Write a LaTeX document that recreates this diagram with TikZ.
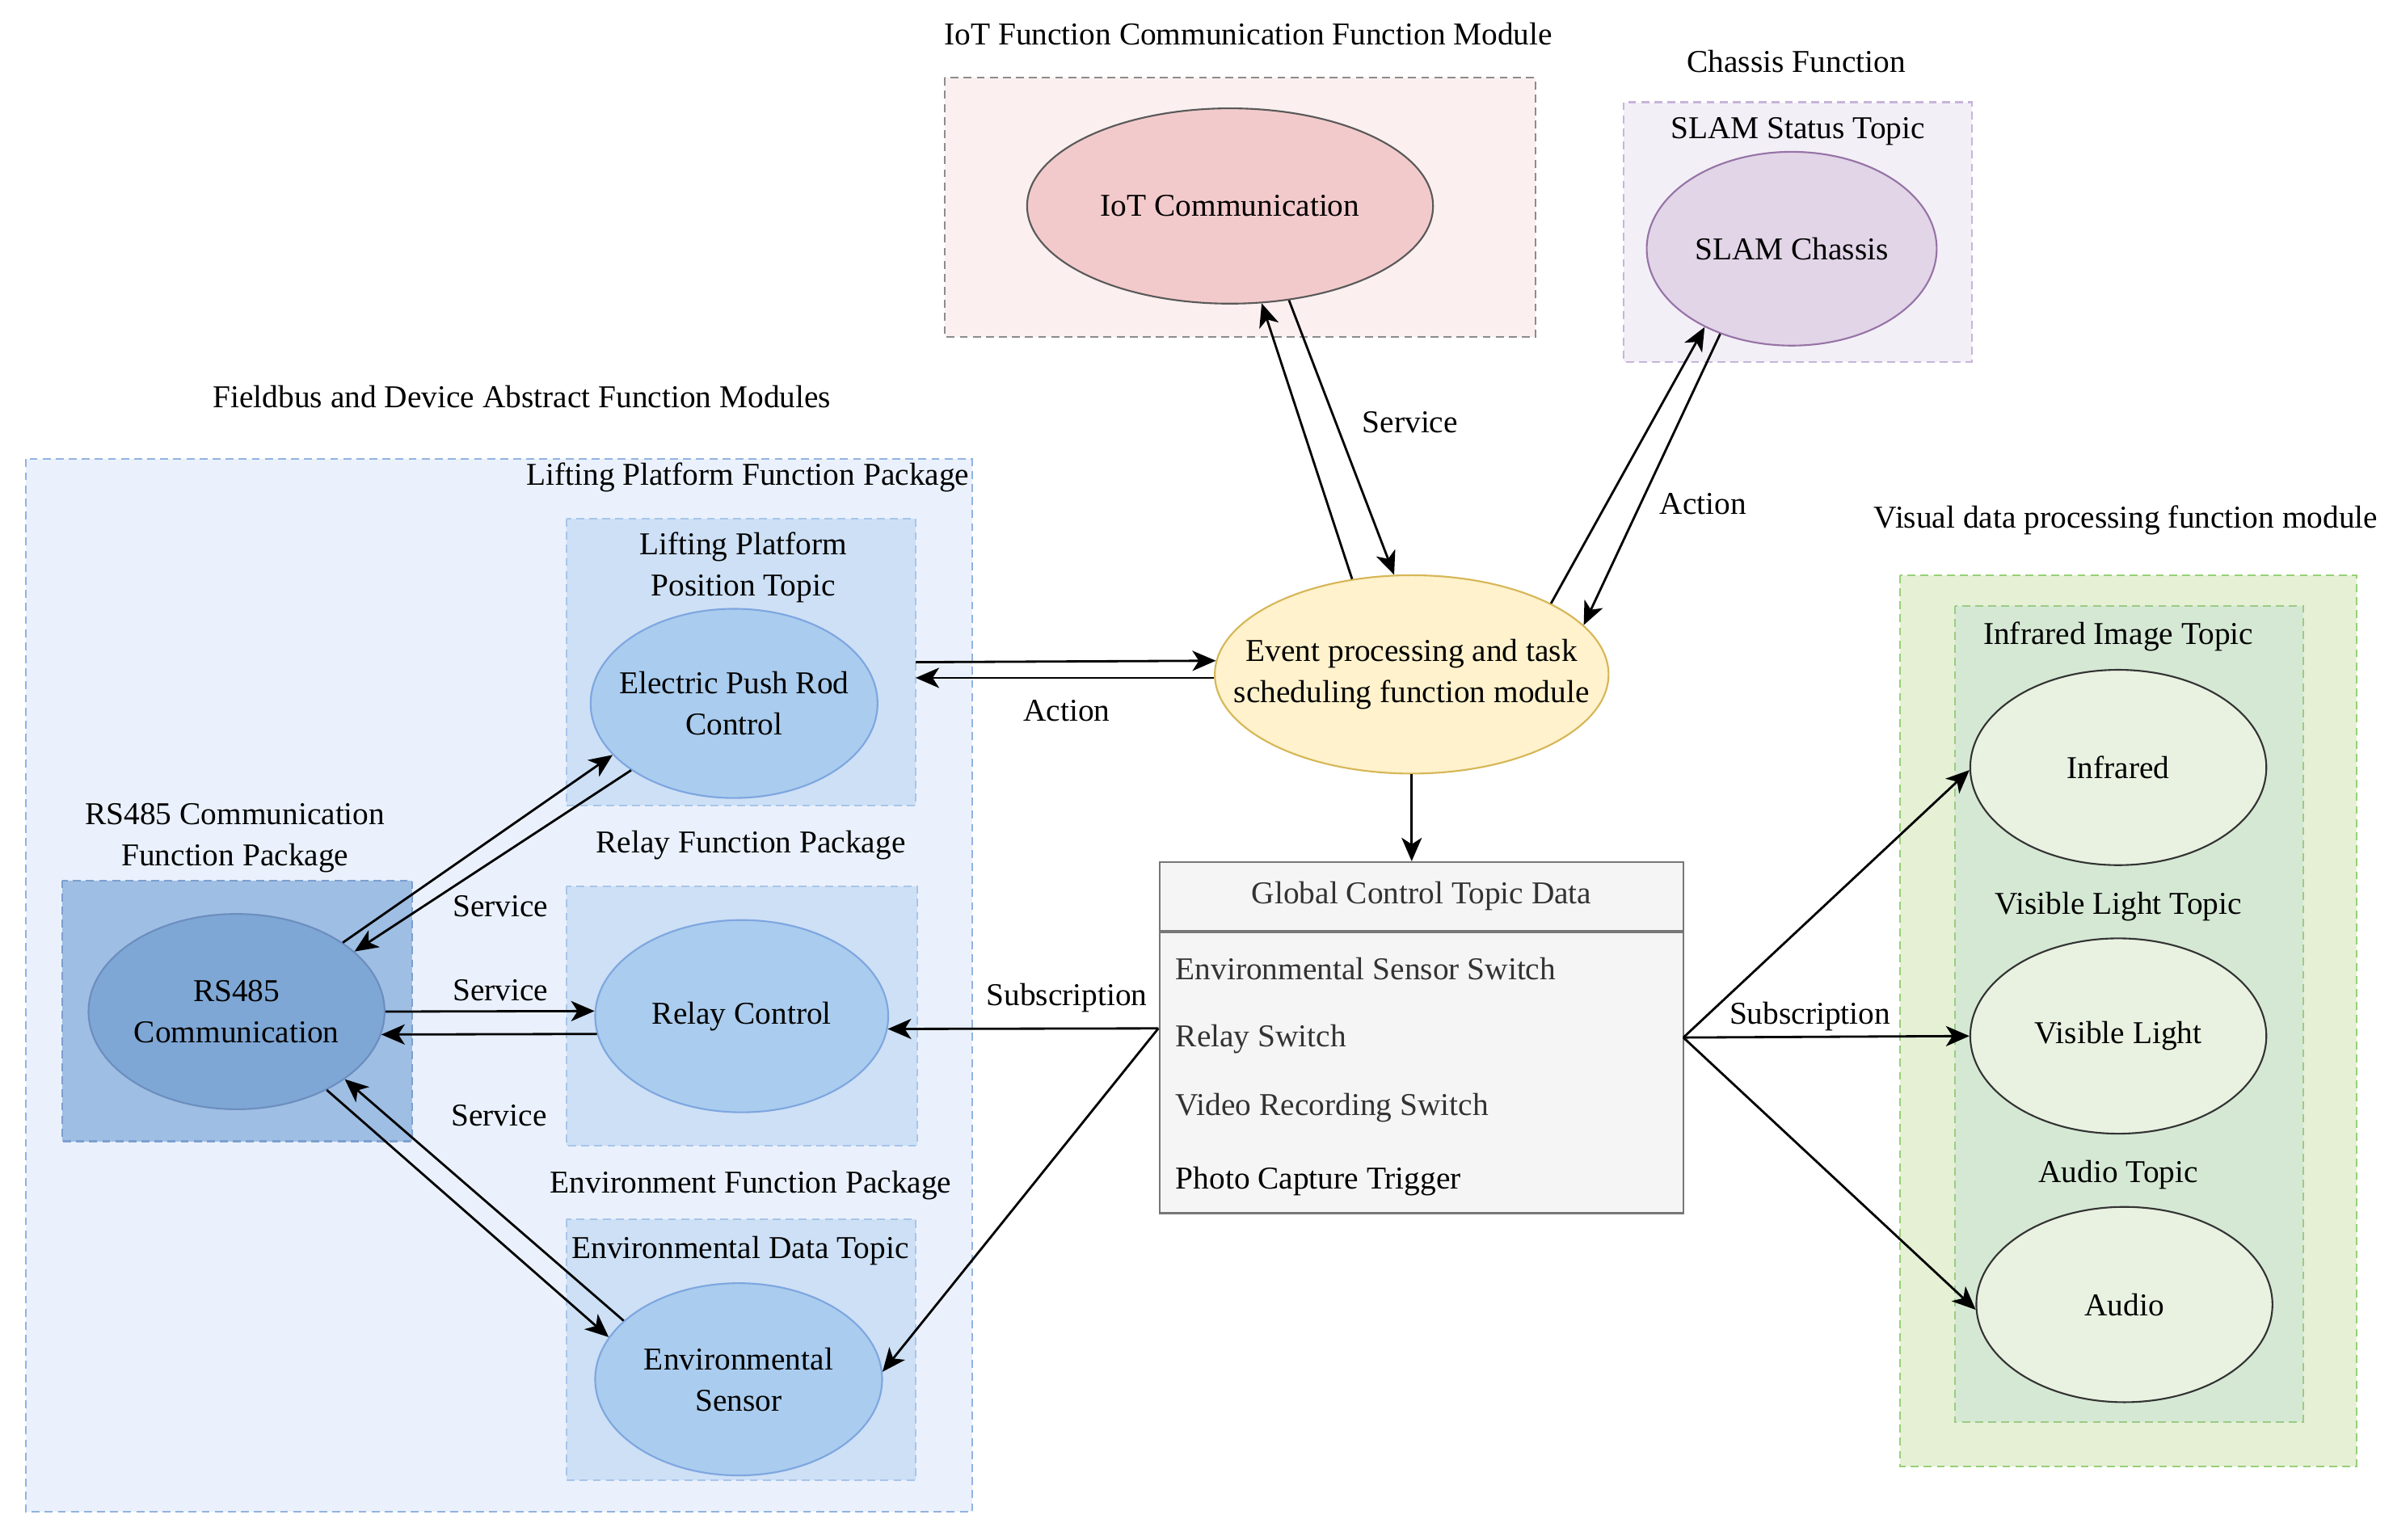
\documentclass[tikz,border=0pt]{standalone}
\usepackage{fontspec}
\setmainfont{Liberation Serif}
\usetikzlibrary{arrows.meta,shapes.geometric}
\definecolor{iotfill}{HTML}{FBEFF0}
\definecolor{iotoval}{HTML}{F3CACB}
\definecolor{slamfill}{HTML}{F3EFF7}
\definecolor{slamline}{HTML}{C6B5DA}
\definecolor{slamoval}{HTML}{E1D5E7}
\definecolor{slamedge}{HTML}{9673A6}
\definecolor{busfill}{HTML}{EAF1FC}
\definecolor{busline}{HTML}{92B3DF}
\definecolor{pkgfill}{HTML}{CDE0F5}
\definecolor{pkgline}{HTML}{A8C5EA}
\definecolor{devoval}{HTML}{AACCEE}
\definecolor{devedge}{HTML}{7EA6E0}
\definecolor{rsfill}{HTML}{9EBEE3}
\definecolor{rsline}{HTML}{7C9FCF}
\definecolor{rsoval}{HTML}{7EA7D5}
\definecolor{rsedge}{HTML}{6C8EBF}
\definecolor{evtfill}{HTML}{FFF2CC}
\definecolor{evtedge}{HTML}{D6B656}
\definecolor{tblfill}{HTML}{F5F5F5}
\definecolor{tbledge}{HTML}{777777}
\definecolor{visfill}{HTML}{E5F0D5}
\definecolor{visline}{HTML}{97D077}
\definecolor{topfill}{HTML}{D5E8D4}
\definecolor{topline}{HTML}{9CCB85}
\definecolor{camoval}{HTML}{E9F2E1}
\newlength\pxu
\setlength\pxu{0.01888cm}

\begin{document}
\begin{tikzpicture}[x=0.01888cm, y=-0.01888cm, font=\fontsize{11.2}{14.5}\selectfont,
  grp/.style={dash pattern=on 2.8pt off 1.8pt, line width=0.6pt},
  oval/.style={ellipse, inner sep=0pt, line width=0.6pt,
    minimum width=192\pxu, minimum height=126\pxu},
  txt/.style={label={[align=center, inner sep=0pt]center:#1}},
  devnode/.style={oval, draw=devedge, fill=devoval},
  camnode/.style={oval, draw=black!80, fill=camoval, minimum width=194\pxu, minimum height=128\pxu},
  pkgbox/.style={grp, draw=pkgline, fill=pkgfill},
  arr/.style={-{Stealth[length=0.29cm, width=0.25cm, inset=0.08cm]}, line width=0.8pt},
  lab/.style={inner sep=1pt},
  item/.style={anchor=west, inner sep=0pt, text=black!80}]
  \useasboundingbox (0,0) rectangle (1568,1009);
  \fill[white] (0,0) rectangle (1568,1009);

  % IoT module
  \node[lab] (iottitle) at (818,22) {IoT Function Communication Function Module};
  \filldraw[grp, draw=black!45, fill=iotfill] (619,51) rectangle (1006,221);
  \node[oval, draw=black!65, fill=iotoval, minimum width=266\pxu, minimum height=128\pxu,
    txt={IoT Communication}] (iot) at (806,135) {};

  % chassis
  \node[lab] (chtitle) at (1177,40) {Chassis Function};
  \filldraw[grp, draw=slamline, fill=slamfill] (1064,67) rectangle (1292,237);
  \node[lab] (slamtopic) at (1178,86) {SLAM Status Topic};
  \node[oval, draw=slamedge, fill=slamoval, minimum width=190\pxu, minimum height=127\pxu,
    txt={SLAM Chassis}] (slam) at (1174,163) {};

  % fieldbus modules
  \node[lab] (bustitle) at (342,260) {Fieldbus and Device Abstract Function Modules};
  \filldraw[grp, draw=busline, fill=busfill] (17,301) rectangle (637,991);
  \node[lab] (lifttitle) at (490,313) {Lifting Platform Function Package};
  \filldraw[pkgbox] (371,340) rectangle (600,528);
  \node[lab, align=center] (postopic) at (487,372) {Lifting Platform\\Position Topic};
  \node[devnode, minimum width=188\pxu, minimum height=124\pxu,
    txt={Electric Push Rod\\Control}] (rod) at (481,461) {};
  \coordinate (posE) at (600,434);

  \node[lab, align=center] (rstitle) at (154,549) {RS485 Communication\\Function Package};
  \filldraw[grp, draw=rsline, fill=rsfill] (41,577) rectangle (270,748);
  \node[oval, draw=rsedge, fill=rsoval, minimum width=194\pxu, minimum height=128\pxu,
    txt={RS485\\Communication}] (rs) at (155,663) {};

  \node[lab] (relaytitle) at (492,554) {Relay Function Package};
  \filldraw[pkgbox] (371,581) rectangle (601,751);
  \node[devnode, txt={Relay Control}] (relay) at (486,666) {};

  \node[lab] (envtitle) at (492,777) {Environment Function Package};
  \filldraw[pkgbox] (371,799) rectangle (600,970);
  \node[lab] (envtopic) at (485,820) {Environmental Data Topic};
  \node[devnode, minimum width=188\pxu, txt={Environmental\\Sensor}] (env) at (484,904) {};

  % scheduler and topic table
  \node[oval, draw=evtedge, fill=evtfill, minimum width=258\pxu, minimum height=130\pxu,
    txt={Event processing and task\\scheduling function module}] (evt) at (925,442) {};
  \node[draw=tbledge, fill=tblfill, line width=0.6pt, minimum width=343\pxu, minimum height=45\pxu, text=black!80] (tblhead) at (931.5,587.5) {Global Control Topic Data};
  \node[draw=tbledge, fill=tblfill, line width=0.6pt, minimum width=343\pxu, minimum height=184\pxu, anchor=north] (tblbody) at (tblhead.south) {};
  \node[item] (it1) at (770,635) {Environmental Sensor Switch};
  \node[item] (it2) at (770,681) {Relay Switch};
  \node[item] (it3) at (770,726) {Video Recording Switch};
  \node[item, text=black] (it4) at (770,774) {Photo Capture Trigger};
  \coordinate (subL) at (759,674);
  \coordinate (subR) at (1103,680);

  % visual data processing
  \node[lab] (vistitle) at (1393,341) {Visual data processing function module};
  \filldraw[grp, draw=visline, fill=visfill] (1245,377) rectangle (1544,961);
  \filldraw[grp, draw=topline, fill=topfill] (1281,397) rectangle (1509,932);
  \node[lab] (irtopic) at (1388,417) {Infrared Image Topic};
  \node[camnode, txt={Infrared}] (ir) at (1388,503) {};
  \node[lab] (vltopic) at (1388,594) {Visible Light Topic};
  \node[camnode, txt={Visible Light}] (vis) at (1388,679) {};
  \node[lab] (autopic) at (1388,770) {Audio Topic};
  \node[camnode, txt={Audio}] (aud) at (1392,855) {};

  % connectors
  \draw[arr] (evt.122) -- (iot.-72);
  \draw[arr] (iot.-58) -- (evt.100);
  \node[lab] (svc1) at (924,277) {Service};
  \draw[arr] (evt.27) -- (slam.222);
  \draw[arr] (slam.230) -- (evt.16);
  \node[lab] (act1) at (1116,330) {Action};
  \draw[arr] (posE) -- (evt.176);
  \draw[arr] (evt.181) -- (evt.181 -| posE);
  \node[lab] (act2) at (699,466) {Action};
  \draw[arr] (evt.south) -- (evt.south |- tblhead.north);

  \draw[arr] (rs.33) -- (rod.203);
  \draw[arr] (rod.213) -- (rs.27);
  \node[lab] (svc2) at (328,594) {Service};
  \draw[arr] (rs.east) -- (relay.178);
  \draw[arr] (relay.187) -- (rs.-9);
  \node[lab] (svc3) at (328,649) {Service};
  \draw[arr] (rs.-41) -- (env.162);
  \draw[arr] (env.153) -- (rs.-32);
  \node[lab] (svc4) at (327,731) {Service};

  \draw[arr] (subL) -- (relay.-5);
  \draw[arr] (subL) -- (env.3);
  \node[lab] (sub1) at (699,654) {Subscription};
  \draw[arr] (subR) -- (ir.181);
  \draw[arr] (subR) -- (vis.west);
  \draw[arr] (subR) -- (aud.182);
  \node[lab] (sub2) at (1186,666) {Subscription};
\end{tikzpicture}
\end{document}
